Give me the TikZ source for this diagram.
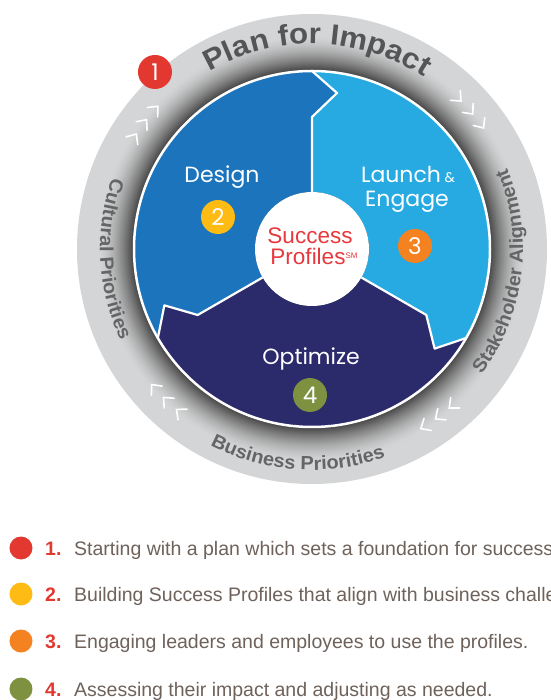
\documentclass[tikz,border=0pt]{standalone}
\usepackage{fontspec}
\setmainfont{Liberation Sans}
\newfontfamily\gfont{Poppins}
\newfontfamily\ringfont[FakeStretch=1.05]{Liberation Sans}
\newfontfamily\planfont[FakeStretch=1.08]{Liberation Sans}
\usetikzlibrary{decorations.text}
\definecolor{dblue}{HTML}{1C75BC}
\definecolor{lblue}{HTML}{27AAE1}
\definecolor{navy}{HTML}{2B2A6B}
\definecolor{cred}{HTML}{E2382F}
\definecolor{cyel}{HTML}{FDBB13}
\definecolor{corg}{HTML}{F58220}
\definecolor{colv}{HTML}{7E9140}
\definecolor{ringtxt}{HTML}{646567}
\definecolor{plantxt}{HTML}{545557}
\definecolor{legtxt}{HTML}{6E625B}
\definecolor{sred}{HTML}{E8383D}
\definecolor{rA}{HTML}{3E3E3E}
\definecolor{rE}{HTML}{D4D5D6}
\tikzset{
  seglabel/.style={anchor=base, text=white, font=\gfont\fontsize{22}{22}\selectfont},
  numdot/.style={circle, minimum size=34, inner sep=0, text=white, font=\gfont\fontsize{23}{23}\selectfont},
  chev/.style={white, line width=1.6, line cap=round, line join=miter},
  segline/.style={white, line width=2.2, line join=round},
  legdot/.style={circle, minimum size=23, inner sep=0},
  legnum/.style={anchor=base west, inner xsep=0, text=cred, font=\bfseries\fontsize{19.5}{19.5}\selectfont},
  legtext/.style={anchor=base west, inner xsep=0, text=legtxt, font=\fontsize{19.5}{19.5}\selectfont},
  ringtext/.style={decorate, decoration={text along path, text align=center, text color=ringtxt, text={#1}}},
  plantext/.style={decorate, decoration={text along path, text align=center, text color=plantxt, text={#1}}}
}
\begin{document}
\begin{tikzpicture}[x=1pt,y=1pt]
\useasboundingbox (-312,249) rectangle (238,-451);
\clip (-312,249) rectangle (238,-451);
\fill[white] (-312,249) rectangle (238,-451);
% ring with inner shadow
\fill[rE] (0,0) circle[radius=235];
\foreach \r in {214,213,...,178}{
  \pgfmathsetmacro\p{100*((214-\r)/36)^1.6}
  \fill[rA!\p!rE] (0,0) circle[radius=\r];
}
% segments
\fill[dblue] (90:57) -- (90:132) -- (80.9:158) -- (90:178) arc[start angle=90, end angle=210, radius=178] -- (200.9:158) -- (210:132) -- (210:57) arc[start angle=210, end angle=90, radius=57] -- cycle;
\fill[lblue] (-30:57) -- (-30:132) -- (-39.1:158) -- (-30:178) arc[start angle=-30, end angle=90, radius=178] -- (80.9:158) -- (90:132) -- (90:57) arc[start angle=90, end angle=-30, radius=57] -- cycle;
\fill[navy] (210:57) -- (210:132) -- (200.9:158) -- (210:178) arc[start angle=210, end angle=330, radius=178] -- (320.9:158) -- (330:132) -- (330:57) arc[start angle=330, end angle=210, radius=57] -- cycle;
\draw[segline] (90:57) -- (90:132) -- (80.9:158) -- (90:178);
\draw[segline] (-30:57) -- (-30:132) -- (-39.1:158) -- (-30:178);
\draw[segline] (210:57) -- (210:132) -- (200.9:158) -- (210:178);
\draw[white, line width=2.5] (0,0) circle[radius=178];
\fill[white] (0,0) circle[radius=57];
% ring texts
\path[plantext={|\planfont\bfseries\fontsize{29}{29}\selectfont|Plan for Impact}] (149.5:205) arc[start angle=149.5, end angle=27.5, radius=205];
\path[ringtext={|\ringfont\bfseries\fontsize{19}{19}\selectfont|Cultural Priorities}] (133:212) arc[start angle=133, end angle=233, radius=212];
\path[ringtext={|\ringfont\bfseries\fontsize{19}{19}\selectfont|Business Priorities}] (216:221) arc[start angle=216, end angle=316, radius=221];
\path[ringtext={|\ringfont\bfseries\fontsize{19}{19}\selectfont|Stakeholder Alignment}] (-62:211) arc[start angle=-62, end angle=48, radius=211];
% chevrons
\foreach \t in {142,40,-54,225}{
  \foreach \k in {-1,0,1}{
    \pgfmathsetmacro\a{\t-\k*4.8}
    \draw[chev, shift={(\a:210)}, rotate=\a-90] (-8,7) -- (0,0) -- (-8,-7);
  }
}
% labels
\node[seglabel] (design) at (-90,66) {Design};
\node[seglabel] (launch) at (96,66) {Launch\,{\fontsize{14}{14}\selectfont\&}};
\node[seglabel] (engage) at (95,42) {Engage};
\node[seglabel] (optimize) at (-1,-116) {Optimize};
\node[anchor=base, text=sred, font=\fontsize{22.5}{22.5}\selectfont] (success) at (-2,5) {Success};
\node[anchor=base, text=sred, font=\fontsize{22.5}{22.5}\selectfont] (profiles) at (2,-16) {Profiles\raisebox{6pt}{\fontsize{8}{8}\selectfont SM}};
% number dots
\node[numdot, fill=cred] (n1) at (-157,177) {1};
\node[numdot, fill=cyel] (n2) at (-94,32) {2};
\node[numdot, fill=corg] (n3) at (103,3) {3};
\node[numdot, fill=colv] (n4) at (-2,-146) {4};
% legend
\node[legdot, fill=cred] (l1) at (-291,-299) {};
\node[legnum] (m1) at (-267,-306) {1.};
\node[legtext] (t1) at (-238,-306) {Starting with a plan which sets a foundation for success.};
\node[legdot, fill=cyel] (l2) at (-291,-345) {};
\node[legnum] (m2) at (-267,-352) {2.};
\node[legtext] (t2) at (-238,-352) {Building Success Profiles that align with business challenges.};
\node[legdot, fill=corg] (l3) at (-291,-392) {};
\node[legnum] (m3) at (-267,-399) {3.};
\node[legtext] (t3) at (-238,-399) {Engaging leaders and employees to use the profiles.};
\node[legdot, fill=colv] (l4) at (-291,-440) {};
\node[legnum] (m4) at (-267,-447) {4.};
\node[legtext] (t4) at (-238,-447) {Assessing their impact and adjusting as needed.};
\end{tikzpicture}
\end{document}
